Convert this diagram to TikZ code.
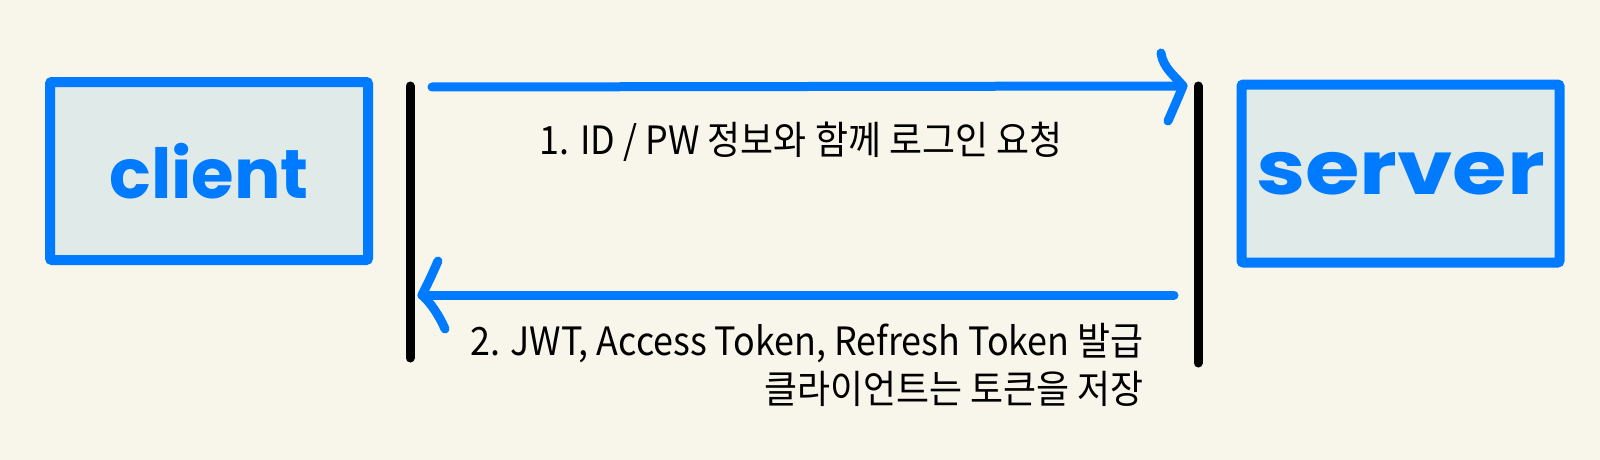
\documentclass[tikz,border=0pt]{standalone}
\usepackage{fontspec}
\usetikzlibrary{calc}
\newfontfamily\krfont[FakeStretch=0.92]{Noto Sans CJK KR}
\newfontfamily\handfont{Poppins}
\definecolor{bgcream}{RGB}{248,246,234}
\definecolor{boxfill}{RGB}{223,234,233}
\definecolor{penblue}{RGB}{0,123,255}
\begin{document}
\begin{tikzpicture}[x=1pt,y=-1pt,
  actorbox/.style={draw=penblue, fill=boxfill, line width=10pt, rounded corners=2pt,
    minimum width=318pt, minimum height=178pt, inner sep=0pt,
    text=penblue, font=\handfont\bfseries\fontsize{69}{70}\selectfont},
  lifeline/.style={draw=black, line width=9pt, line cap=round},
  msgline/.style={draw=penblue, line width=9pt, line cap=round, line join=round},
  msgtext/.style={inner sep=0pt, text=black, font=\krfont\fontsize{39}{44}\selectfont}]
\useasboundingbox (0,0) rectangle (1600,460);
\fill[bgcream] (0,0) rectangle (1600,460);

% boxes
\node[actorbox] (client) at (209,171) {client};
\node[actorbox] (server) at (1400.5,173.5) {\raisebox{-10pt}{\scalebox{1.28}[1.08]{server}}};

% lifelines
\coordinate (cltop) at (410,86);
\coordinate (clbot) at (410,358);
\coordinate (svtop) at (1198,86);
\coordinate (svbot) at (1198,363);
\draw[lifeline] (cltop) -- (clbot);
\draw[lifeline] (svtop) -- (svbot);

% message 1
\coordinate (m1s) at (432,87);
\coordinate (m1e) at (1183,86);
\draw[msgline] (m1s) -- (m1e);
\draw[msgline] ($(m1e)+(-22,-33)$) .. controls ($(m1e)+(-20,-18)$) and ($(m1e)+(-8,-10)$) .. (m1e)
  .. controls ($(m1e)+(-5,12)$) .. ($(m1e)+(-15,35)$);

% message 2
\coordinate (m2s) at (1174,295);
\coordinate (m2e) at (422,295);
\draw[msgline] (m2s) -- (m2e);
\draw[msgline] ($(m2e)+(16,-34)$) .. controls ($(m2e)+(8,-16)$) .. (m2e)
  .. controls ($(m2e)+(9,8)$) and ($(m2e)+(18,22)$) .. ($(m2e)+(23,34)$);

% labels
\node[msgtext, anchor=base] (t1) at (801,154) {1. ID / PW 정보와 함께 로그인 요청};
\node[msgtext, anchor=base east] (t2a) at (1144,355) {2. JWT, Access Token, Refresh Token 발급};
\node[msgtext, anchor=base east] (t2b) at (1144,403) {클라이언트는 토큰을 저장};
\end{tikzpicture}
\end{document}
